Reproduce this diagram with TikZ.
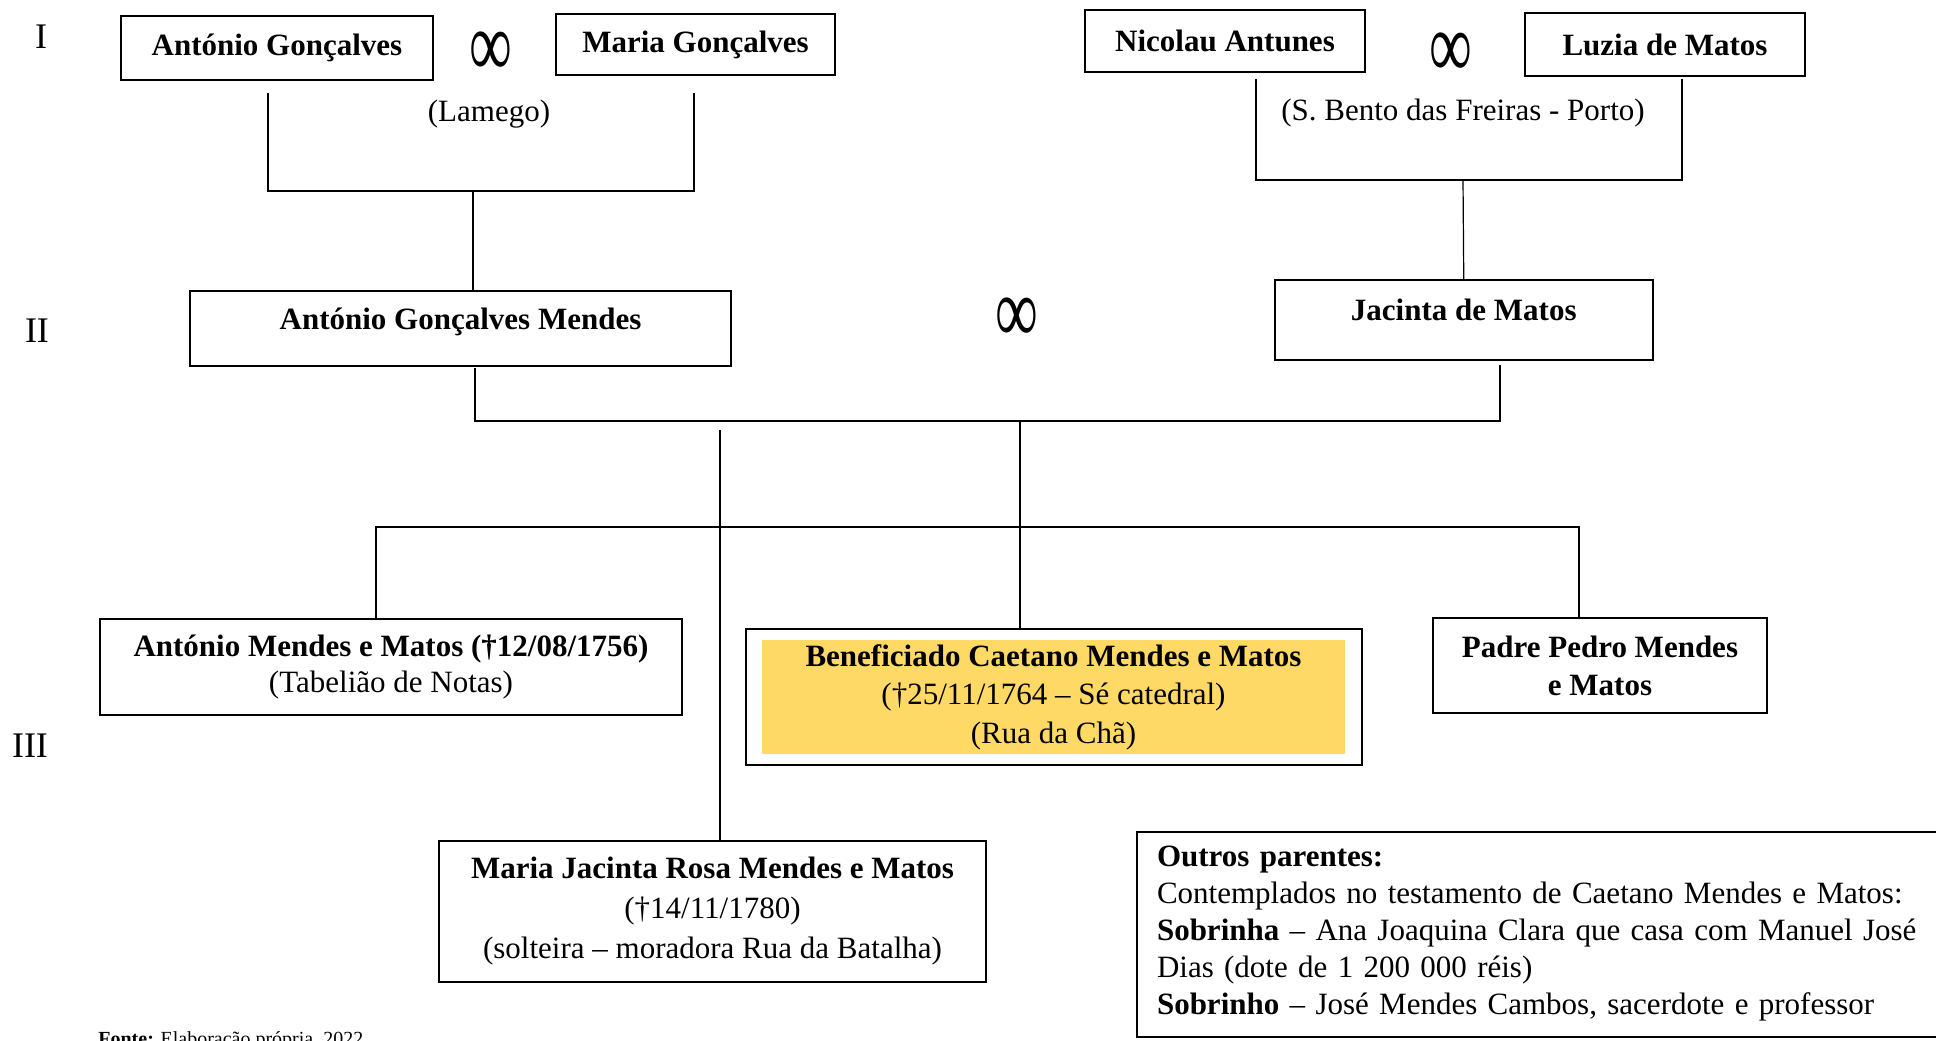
\documentclass[tikz,border=0pt]{standalone}
\usepackage{fontspec}
\setmainfont{Liberation Serif}
\usetikzlibrary{fit,positioning}
\definecolor{benyellow}{HTML}{FFD966}
\newcommand{\casado}{\scalebox{1}[1.55]{∞}}

\begin{document}
\begin{tikzpicture}[x=0.5pt,y=-0.5pt]
\tikzstyle{person}=[rectangle, draw=black, line width=1pt, align=center, inner sep=2pt, font=\fontsize{15.5}{19}\selectfont]
\tikzstyle{namebox}=[person, font=\fontsize{15.5}{19}\selectfont\bfseries]
\tikzstyle{connect}=[line width=0.6pt]
\tikzstyle{gen}=[font=\fontsize{18}{20}\selectfont]
\tikzstyle{marr}=[font=\fontsize{30}{30}\selectfont]
\tikzstyle{placelbl}=[font=\fontsize{15.5}{19}\selectfont]
\useasboundingbox (0,0) rectangle (1936,1040);
% generations
  \node[gen] (g1) at (41,37) {I};
  \node[gen] (g2) at (37,331) {II};
  \node[gen] (g3) at (30,746) {III};
% first generation
  \node[namebox, minimum width=156pt, minimum height=32pt] (ag) at (277,48) {António Gonçalves};
  \node[namebox, minimum width=139.5pt, minimum height=30.5pt] (mg) at (695.5,44.5) {Maria Gonçalves};
  \node[marr] (m1) at (491,54) {\casado};
  \node[placelbl] (lam) at (489,114) {(Lamego)};
  \node[namebox, minimum width=140pt, minimum height=31pt] (na) at (1225,41) {Nicolau Antunes};
  \node[namebox, minimum width=140pt, minimum height=31.5pt] (lm) at (1665,44.5) {Luzia de Matos};
  \node[marr] (m2) at (1451,55) {\casado};
  \node[placelbl] (sbf) at (1463,113) {(S. Bento das Freiras - Porto)};
% second generation
  \node[namebox, minimum width=270.5pt, minimum height=37.5pt, text depth=10pt] (agm) at (460.5,328.5) {António Gonçalves Mendes};
  \node[namebox, minimum width=189pt, minimum height=40pt, text depth=10pt] (jm) at (1463.75,320) {Jacinta de Matos};
  \node[marr] (m3) at (1017,320) {\casado};
% third generation
  \node[person, minimum width=291pt, minimum height=48pt, font=\fontsize{15.5}{18}\selectfont] (amm) at (391,667) {\textbf{António Mendes e Matos (†12/08/1756)}\\(Tabelião de Notas)};
  \node[person, draw=none, fill=benyellow, minimum width=291.5pt, minimum height=56pt, font=\fontsize{15.5}{19.25}\selectfont] (ben) at (1053.5,697) {\textbf{Beneficiado Caetano Mendes e Matos}\\(†25/11/1764 – Sé catedral)\\(Rua da Chã)};
  \node[draw=black, line width=1pt, fit=(ben), inner xsep=7.75pt, inner ysep=5.25pt] (benframe) {};
  \node[namebox, minimum width=167pt, minimum height=47.5pt] (padre) at (1600,665.5) {Padre Pedro Mendes\\e Matos};
  \node[person, minimum width=273.5pt, minimum height=70.5pt, font=\fontsize{15.5}{20}\selectfont] (maria) at (712.5,911) {\textbf{Maria Jacinta Rosa Mendes e Matos}\\(†14/11/1780)\\(solteira – moradora Rua da Batalha)};
  \node[person, anchor=west, minimum height=102.5pt, text width=395pt, inner xsep=10pt, align=left, font=\fontsize{15.5}{18.5}\selectfont] (outros) at (1136,934) {\textbf{Outros parentes:}\\Contemplados no testamento de Caetano Mendes e Matos:\\\textbf{Sobrinha} – Ana Joaquina Clara que casa com Manuel José\\Dias (dote de 1 200 000 réis)\\\textbf{Sobrinho} – José Mendes Cambos, sacerdote e professor};
  \node[anchor=north west, inner sep=0pt, font=\fontsize{10}{12}\selectfont] (fonte) at (98,1031) {\textbf{Fonte:} Elaboração própria, 2022};
% connectors
\coordinate (agd) at (268,93);
\coordinate (mgd) at (694,93);
\coordinate (lamego) at (473,191);
\coordinate (nad) at (1256,79);
\coordinate (lmd) at (1682,79);
\coordinate (porto) at (1463,180);
\coordinate (agmd) at (475,368);
\coordinate (jmd) at (1500,365);
\coordinate (casal) at (1020,421);
\coordinate (mj) at (720,430);
\coordinate (fl) at (376,527);
\coordinate (fr) at (1579,527);
  \draw[connect] (agd) |- (lamego) -| (mgd);
  \draw[connect] (lamego) -- (lamego |- agm.north);
  \draw[connect] (nad) |- (porto) -| (lmd);
  \draw[connect] (porto) -- (jm.north);
  \draw[connect] (agmd) |- (casal) -| (jmd);
  \draw[connect] (casal) -- (casal |- benframe.north);
  \draw[connect] (mj) -- (mj |- maria.north);
  \draw[connect] (amm.north -| fl) -- (fl) -- (fr) -- (fr |- padre.north);
\end{tikzpicture}
\end{document}
